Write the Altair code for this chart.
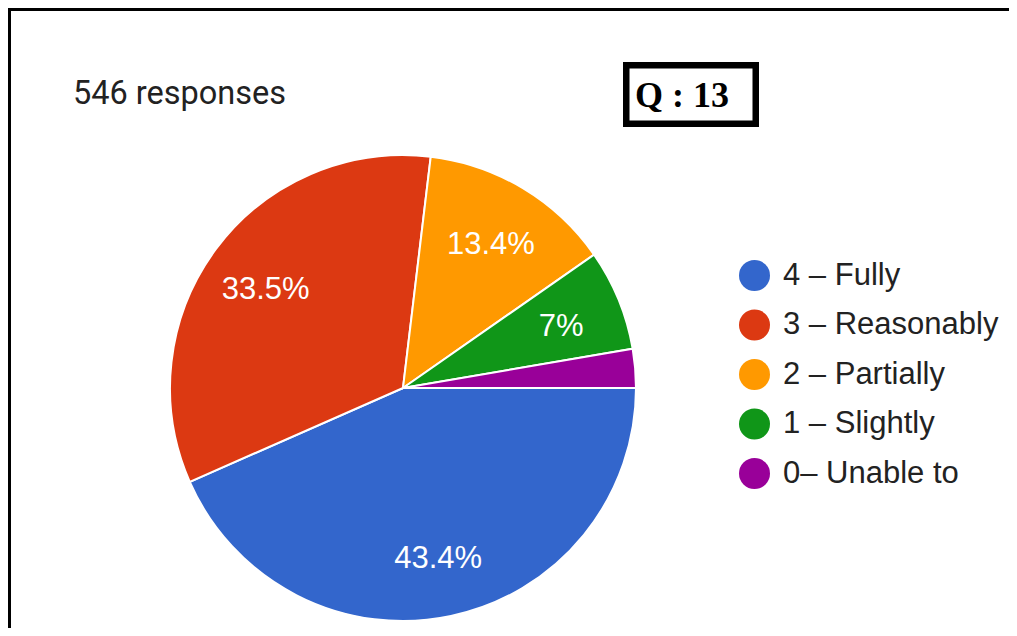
import math
import altair as alt
import pandas as pd

# ---- data ----
categories = ["4 – Fully", "3 – Reasonably", "2 – Partially", "1 – Slightly", "0– Unable to"]
percents = [43.4, 33.5, 13.4, 7.0, 2.7]
pct_labels = ["43.4%", "33.5%", "13.4%", "7%", ""]
colors = ["#3366cc", "#dc3912", "#ff9900", "#109618", "#990099"]
slice_order = [0, 1, 2, 3, 4]
response_text = "546 responses"
question_text = "Q : 13"

df = pd.DataFrame({"cat": categories, "pct": percents, "lab": pct_labels, "ord": slice_order})
one = pd.DataFrame({"a": [0]})

W, H = 1001, 620
CX, CY, R = 395, 380, 233
LABEL_R = 171

theta_scale = alt.Scale(range=[math.pi / 2, math.pi / 2 + 2 * math.pi])

base = alt.Chart(df).encode(
    theta=alt.Theta("pct:Q", stack=True, scale=theta_scale),
    order=alt.Order("ord:Q"),
)

pie = base.mark_arc(stroke="white", strokeWidth=2).encode(
    x=alt.value(CX),
    y=alt.value(CY),
    radius=alt.value(R),
    color=alt.Color(
        "cat:N",
        scale=alt.Scale(domain=categories, range=colors),
        legend=alt.Legend(
            orient="none",
            legendX=731,
            legendY=252,
            title=None,
            symbolType="circle",
            symbolSize=961,
            symbolStrokeWidth=0,
            labelFontSize=31,
            labelFont="Liberation Sans",
            labelColor="#222222",
            labelOffset=13,
            rowPadding=17.5,
            padding=0,
            labelLimit=400,
        ),
    ),
)

labels = base.mark_text(
    radius=LABEL_R, fontSize=31, font="Liberation Sans", color="white",
    align="center", baseline="middle", dy=4,
).encode(
    x=alt.value(CX),
    y=alt.value(CY),
    text="lab:N",
)

top_border = alt.Chart(one).mark_rule(color="black", strokeWidth=3).encode(
    x=alt.value(0), x2=alt.value(W), y=alt.value(1.5)
)
left_border = alt.Chart(one).mark_rule(color="black", strokeWidth=3).encode(
    x=alt.value(1.5), y=alt.value(0), y2=alt.value(H)
)

responses = alt.Chart(one).mark_text(
    text=response_text, fontSize=32.5, font="Roboto", color="#222222",
    align="left", baseline="alphabetic",
).encode(x=alt.value(65), y=alt.value(96))

qbox = alt.Chart(one).mark_rect(fill="white", stroke="black", strokeWidth=6.5).encode(
    x=alt.value(618.25), x2=alt.value(747.75), y=alt.value(57.25), y2=alt.value(115.75)
)
qtext = alt.Chart(one).mark_text(
    text=question_text, fontSize=36, font="Liberation Serif", fontWeight="bold",
    color="black", align="left", baseline="alphabetic",
).encode(x=alt.value(627), y=alt.value(99))

chart = alt.layer(
    top_border, left_border, responses, qbox, qtext, pie, labels
).properties(
    width=W, height=H, padding=0, autosize="none", background="white"
).configure_view(stroke=None)

chart.save("out.html", embed_options={"renderer": "svg", "actions": False})
